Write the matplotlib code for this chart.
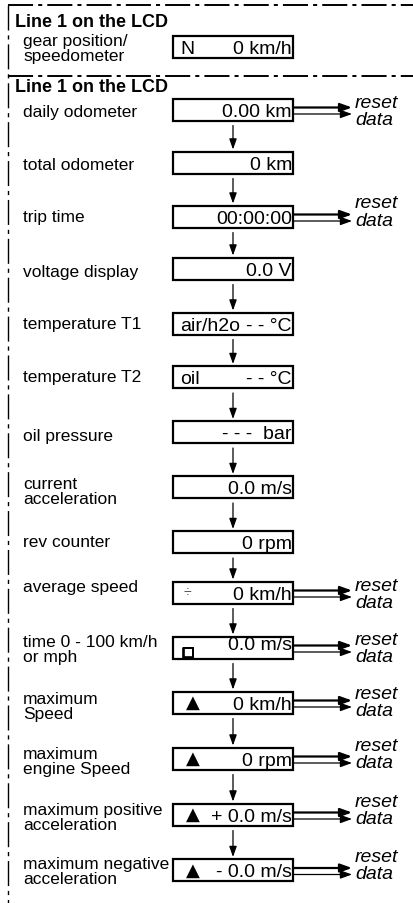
import matplotlib
matplotlib.use("Agg")
import matplotlib.pyplot as plt
import matplotlib.patheffects as pe
from matplotlib.patches import Rectangle

# --- content ---
title = "Line 1 on the LCD"

top_label = "gear position/\nspeedometer"
top_prefix = "N"
top_value = "0 km/h"

labels = ["daily odometer", "total odometer", "trip time", "voltage display",
          "temperature T1", "temperature T2", "oil pressure",
          "current\nacceleration", "rev counter", "average speed",
          "time 0 - 100 km/h\nor mph", "maximum\nSpeed", "maximum\nengine Speed",
          "maximum positive\nacceleration", "maximum negative\nacceleration"]
prefixes = ["", "", "", "", "air/h2o", "oil", "", "", "", "\u00f7", "\u25a1",
            "\u25b2", "\u25b2", "\u25b2", "\u25b2"]
values = ["0.00 km", "0 km", "00:00:00", "0.0 V", "- - \u00b0C", "- - \u00b0C",
          "- - -  bar", "0.0 m/s", "0 rpm", "0 km/h", "0.0 m/s", "0 km/h",
          "0 rpm", "+ 0.0 m/s", "- 0.0 m/s"]
has_reset = [True, False, True, False, False, False, False, False, False,
             True, True, True, True, True, True]
reset_text = "reset\ndata"

# --- layout (pixels, origin top-left) ---
W, H = 413, 904
row_y = [110.5, 163.5, 217.5, 269.5, 324.5, 378, 433, 488, 543, 593.5,
         648.5, 703.5, 759.5, 815.5, 871]
label_dy = [2.5, 1.5, 0, 3.5, 0, 0, 4, 4, 0, -6, 1.5, 4, 2.5, 2.5, 1]
reset_dy = [1.5, 0, -5, 0, 0, 0, 0, 0, 0, 2, 0.5, -0.5, -4.5, -4.75, -5]
box_x0, box_w, box_h = 173, 120, 22
arrow_x = 233

fig = plt.figure(figsize=(W / 100, H / 100), dpi=100)
ax = fig.add_axes([0, 0, 1, 1])
ax.set_xlim(0, W)
ax.set_ylim(H, 0)
ax.axis("off")

sans = ["Liberation Sans", "DejaVu Sans"]
dashdot = (0, (12.9, 2.6, 2.1, 2.6))

# frame lines
ax.plot([8, W], [6, 6], color="k", lw=1.4, ls=dashdot)
ax.plot([8, W], [77, 77], color="k", lw=1.4, ls=dashdot)
ax.plot([8, 8], [6, H], color="k", lw=1.0, ls=(0, (18, 3.5, 3, 3.5)))

# titles
ax.text(15, 27, title, fontsize=13, fontweight="bold", family=sans, va="baseline")
ax.text(15, 92, title, fontsize=13, fontweight="bold", family=sans, va="baseline")


def lcd_box(cy, prefix, value, val_dy=6.5):
    ax.add_patch(Rectangle((box_x0, cy - box_h / 2), box_w, box_h, fill=False,
                           lw=1.6, ec="k"))
    ax.text(box_x0 + box_w - 1, cy + val_dy, value, fontsize=14, family=sans,
            ha="right", va="baseline")
    if prefix == "\u00f7":
        ax.text(box_x0 + 11, cy, prefix, fontsize=10, family=sans,
                color="#555555", ha="left", va="center")
    elif prefix == "\u25a1":
        ax.text(box_x0 + 9, cy + 5, prefix, fontsize=9.5, family=["DejaVu Sans"],
                ha="left", va="center",
                path_effects=[pe.withStroke(linewidth=1.2, foreground="k")])
    elif prefix == "\u25b2":
        ax.text(box_x0 + 13, cy - 0.5, prefix, fontsize=13, family=["DejaVu Sans"],
                ha="left", va="center")
    elif prefix:
        ax.text(box_x0 + 7, cy + val_dy, prefix, fontsize=14, family=sans,
                ha="left", va="baseline")


def down_arrow(y0, y1):
    ax.annotate("", xy=(arrow_x, y1), xytext=(arrow_x, y0),
                arrowprops=dict(arrowstyle="-|>,head_length=0.45,head_width=0.16",
                                lw=0.9, color="k", mutation_scale=14,
                                shrinkA=0, shrinkB=0))


def reset_arrow(cy, dy):
    x0 = box_x0 + box_w
    for yy, lw in [(cy - 2, 1.6), (cy + 4.5, 0.9)]:
        ax.annotate("", xy=(352, yy), xytext=(x0, yy),
                    arrowprops=dict(arrowstyle="-|>,head_length=0.5,head_width=0.18",
                                    lw=lw, color="k", mutation_scale=14,
                                    shrinkA=0, shrinkB=0))
    ax.text(355, cy + dy, reset_text, fontsize=14, style="italic", family=sans,
            ha="left", va="center", linespacing=1.0)


# first section
ax.text(23, 49, top_label, fontsize=12.5, family=sans, va="center",
        linespacing=1.0)
lcd_box(47.5, top_prefix, top_value)

# second section
for i, (lab, pre, val) in enumerate(zip(labels, prefixes, values)):
    cy = row_y[i]
    ax.text(23, cy + label_dy[i], lab, fontsize=12.5, family=sans, va="center",
            linespacing=1.0)
    lcd_box(cy, pre, val, val_dy=1.5 if pre == "\u25a1" else 6.5)
    if has_reset[i]:
        reset_arrow(cy, reset_dy[i])
    if i < len(labels) - 1:
        down_arrow(cy + box_h / 2 + 5, row_y[i + 1] - box_h / 2 - 2)

fig.savefig("out.png", dpi=100)
